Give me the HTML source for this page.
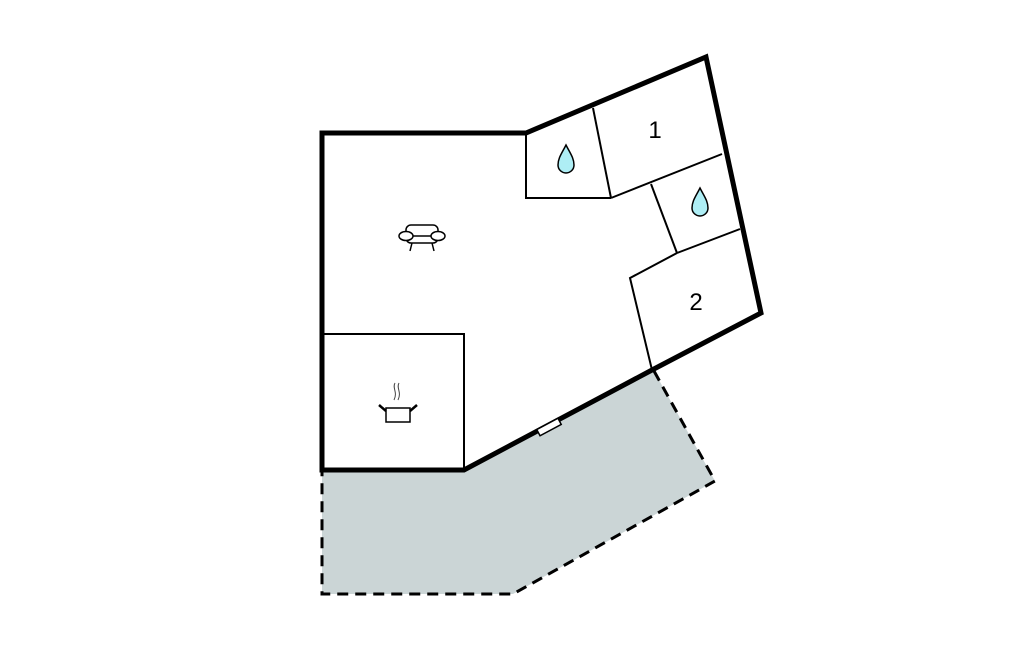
<!DOCTYPE html>
<html><head><meta charset="utf-8"><style>html,body{margin:0;padding:0;background:#fff;}svg{display:block}</style></head>
<body>
<svg width="1024" height="652" viewBox="0 0 1024 652" xmlns="http://www.w3.org/2000/svg">
<polygon points="322,472 464,470 654,371 715,481 513,594 322,594" fill="#cbd5d6"/>
<polyline points="654,371 715,481 513,594 322,594 322,472" fill="none" stroke="#000" stroke-width="3" stroke-dasharray="11,7"/>
<g stroke="#000" stroke-width="2" fill="none">
<polyline points="526,133 526,198 611,198"/>
<line x1="593" y1="108" x2="611" y2="198"/>
<line x1="611" y1="198" x2="722" y2="154"/>
<line x1="651" y1="184" x2="677" y2="253"/>
<line x1="677" y1="253" x2="740" y2="229"/>
<polyline points="677,253 630,278 652,370"/>
<polyline points="322,334 464,334 464,470"/>
</g>
<polygon points="322,133 526,133 706,57 761,313 652,370 464,470 322,470" fill="none" stroke="#000" stroke-width="5" stroke-linejoin="miter"/>
<g transform="translate(549,427) rotate(-28)"><rect x="-12" y="-3.5" width="24" height="7" fill="#fff" stroke="#000" stroke-width="1.5"/></g>
<g fill="#aeeef5" stroke="#000" stroke-width="1.5">
<path d="M566,145 C562,153 558,158 558,165 A8,8 0 0 0 574,165 C574,158 570,153 566,145 Z"/>
<path d="M700,188 C696,196 692,201 692,208 A8,8 0 0 0 708,208 C708,201 704,196 700,188 Z"/>
</g>
<text x="655" y="138" font-family="Liberation Sans, sans-serif" font-size="24" text-anchor="middle">1</text>
<text x="696" y="310" font-family="Liberation Sans, sans-serif" font-size="24" text-anchor="middle">2</text>
<g stroke="#000" stroke-width="1.5" fill="#fff">
<rect x="406" y="225" width="32" height="18" rx="5"/>
<line x1="406" y1="236" x2="438" y2="236"/>
<ellipse cx="406" cy="236" rx="7" ry="4.5"/>
<ellipse cx="438" cy="236" rx="7" ry="4.5"/>
<line x1="412" y1="243" x2="410" y2="251"/>
<line x1="432" y1="243" x2="434" y2="251"/>
</g>
<g stroke="#000" fill="none">
<rect x="386" y="408" width="24" height="14" stroke-width="1.5"/>
<line x1="379" y1="405" x2="386" y2="411" stroke-width="2.5"/>
<line x1="410" y1="411" x2="417" y2="405" stroke-width="2.5"/>
<path d="M395,383 C392,388 398,392 394,400" stroke-width="1" stroke="#444"/>
<path d="M399,383 C396,388 402,392 398,400" stroke-width="1" stroke="#444"/>
</g>
</svg>
</body></html>
